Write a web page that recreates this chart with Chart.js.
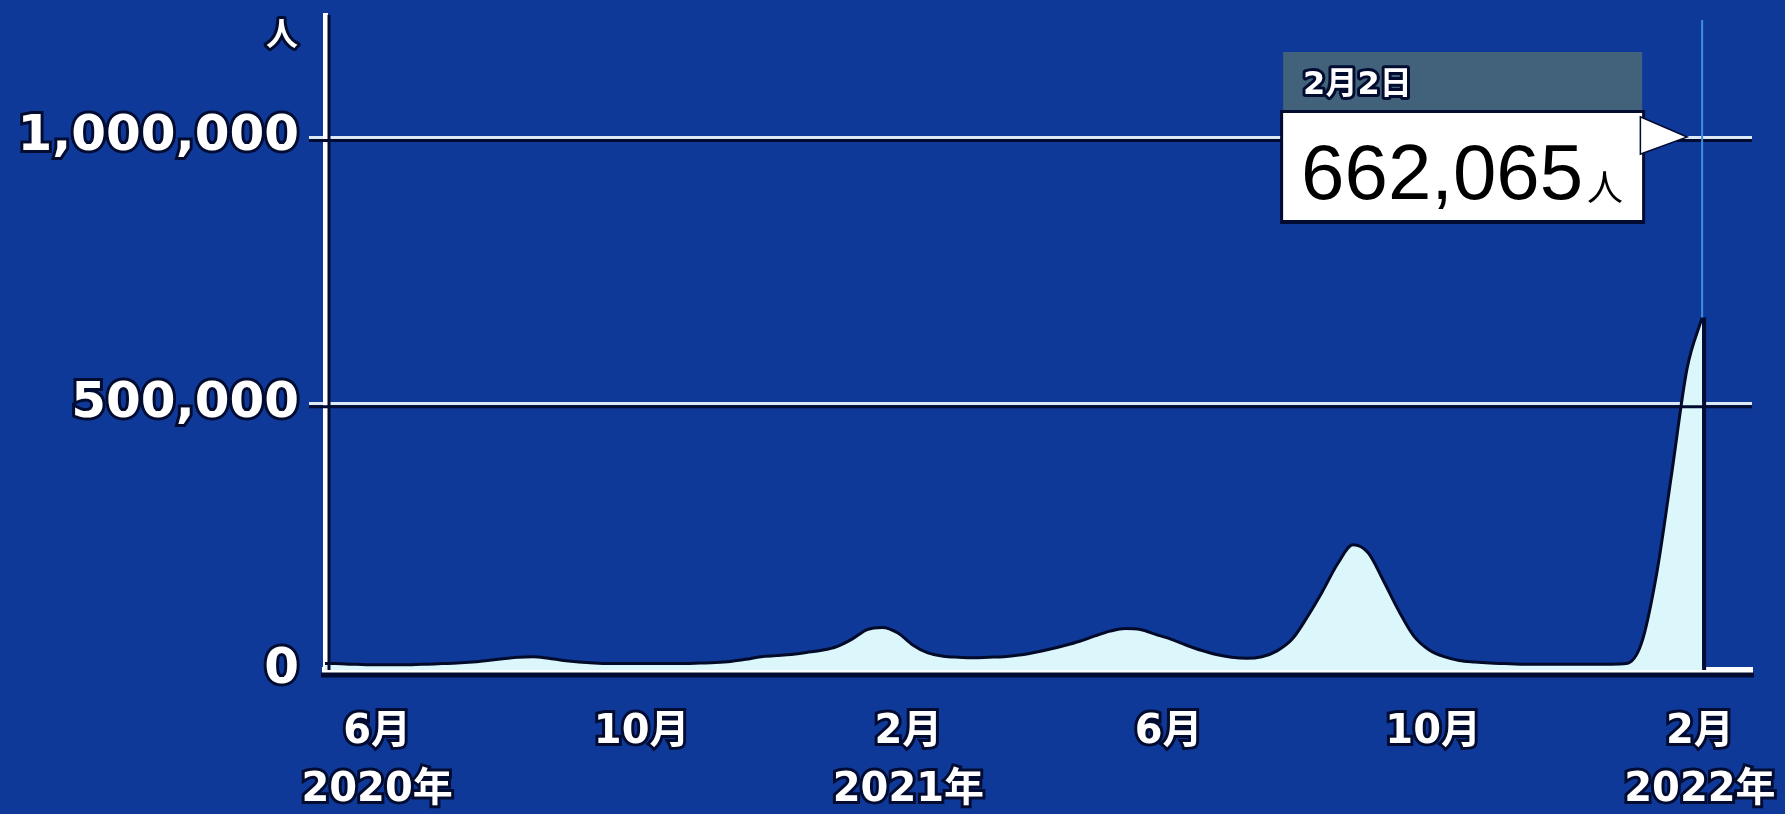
<!DOCTYPE html>
<html lang="ja">
<head>
<meta charset="utf-8">
<title>新規感染者数</title>
<script src="https://cdn.jsdelivr.net/npm/chart.js@4.4.1/dist/chart.umd.min.js"></script>
<style>
  html, body { margin: 0; padding: 0; background: #0f3999; overflow: hidden; }
  canvas { display: block; }
</style>
</head>
<body>
<canvas id="grafico" width="1785" height="814"></canvas>
<script>
// fechas (semanales) y valores, en personas
const fechas = [
  '2020-05-08', '2020-05-13', '2020-05-20', '2020-05-27', '2020-06-03', '2020-06-10', '2020-06-17', '2020-06-24',
  '2020-07-01', '2020-07-08', '2020-07-15', '2020-07-22', '2020-07-29', '2020-08-05', '2020-08-12', '2020-08-19',
  '2020-08-26', '2020-09-02', '2020-09-09', '2020-09-16', '2020-09-23', '2020-09-30', '2020-10-07', '2020-10-14',
  '2020-10-21', '2020-10-28', '2020-11-04', '2020-11-11', '2020-11-18', '2020-11-25', '2020-12-02', '2020-12-09',
  '2020-12-16', '2020-12-23', '2020-12-30', '2021-01-06', '2021-01-13', '2021-01-20', '2021-01-27', '2021-02-03',
  '2021-02-10', '2021-02-17', '2021-02-24', '2021-03-03', '2021-03-10', '2021-03-17', '2021-03-24', '2021-03-31',
  '2021-04-07', '2021-04-14', '2021-04-21', '2021-04-28', '2021-05-05', '2021-05-12', '2021-05-19', '2021-05-26',
  '2021-06-02', '2021-06-09', '2021-06-16', '2021-06-23', '2021-06-30', '2021-07-07', '2021-07-14', '2021-07-21',
  '2021-07-28', '2021-08-04', '2021-08-11', '2021-08-18', '2021-08-25', '2021-09-01', '2021-09-08', '2021-09-15',
  '2021-09-22', '2021-09-29', '2021-10-06', '2021-10-13', '2021-10-20', '2021-10-27', '2021-11-03', '2021-11-10',
  '2021-11-17', '2021-11-24', '2021-12-01', '2021-12-08', '2021-12-15', '2021-12-22', '2021-12-29', '2022-01-05',
  '2022-01-12', '2022-01-19', '2022-01-26', '2022-02-02'
]
const valores = [
  12000, 12000, 11000, 10000, 10000, 10000, 10000, 11000,
  12000, 13000, 15000, 18000, 21000, 24000, 25000, 22000,
  18000, 15000, 13000, 12000, 12000, 12000, 12000, 12000,
  12000, 13000, 14000, 16000, 20000, 25000, 27000, 29000,
  33000, 37000, 44000, 58000, 76000, 80000, 70000, 47000,
  32000, 26000, 24000, 23000, 24000, 25000, 28000, 33000,
  39000, 46000, 54000, 64000, 73000, 78000, 76000, 67000,
  58000, 47000, 37000, 29000, 24000, 22000, 25000, 36000,
  58000, 100000, 148000, 200000, 235000, 220000, 168000, 112000,
  64000, 38000, 25000, 18000, 15000, 13000, 12000, 11000,
  11000, 11000, 11000, 11000, 11000, 11000, 12000, 50000,
  180000, 370000, 565000, 662065
]

const rangoX = ['2020-05-08', '2022-02-25']
const tickFechas = ['2020-06-01', '2020-10-01', '2021-02-01', '2021-06-01', '2021-10-01', '2022-02-01']
const tickEtiquetas = [['6月', '2020年'], ['10月'], ['2月', '2021年'], ['6月'], ['10月'], ['2月', '2022年']]
const tickY = [0, 500000, 1000000]
const maxY = 1230000
const unidad = '人'

const SOMBRA = '#020b30'
const dia = s => Date.parse(s + 'T00:00:00Z') / 86400000

function textoContorno(ctx, txt, x, y, ancho) {
  ctx.lineJoin = 'round'
  ctx.lineWidth = ancho
  ctx.strokeStyle = SOMBRA
  ctx.strokeText(txt, x, y)
  ctx.fillStyle = '#ffffff'
  ctx.fillText(txt, x, y)
}

// sombras oscuras de ejes y lineas de cuadricula
const sombras = {
  id: 'sombras',
  afterDatasetsDraw(chart) {
    const { ctx, chartArea, scales } = chart
    ctx.save()
    ctx.strokeStyle = SOMBRA
    ctx.lineWidth = 3
    tickY.filter(v => v > 0).forEach(v => {
      const y = scales.y.getPixelForValue(v) + 3
      ctx.beginPath()
      ctx.moveTo(chartArea.left - 16, y)
      ctx.lineTo(chartArea.right, y)
      ctx.stroke()
    })
    ctx.beginPath()
    ctx.moveTo(chartArea.left + 4, chartArea.top)
    ctx.lineTo(chartArea.left + 4, chartArea.bottom)
    ctx.stroke()
    ctx.lineWidth = 5
    ctx.beginPath()
    ctx.moveTo(chartArea.left - 4, chartArea.bottom + 5)
    ctx.lineTo(chartArea.right + 2, chartArea.bottom + 5)
    ctx.stroke()

    // linea vertical del ultimo dato
    const n = valores.length - 1
    const px = scales.x.getPixelForValue(dia(fechas[n]))
    const py = scales.y.getPixelForValue(valores[n])
    ctx.lineWidth = 4
    ctx.beginPath()
    ctx.moveTo(px + 2, py)
    ctx.lineTo(px + 2, chartArea.bottom)
    ctx.stroke()
    ctx.strokeStyle = '#3f8fdc'
    ctx.lineWidth = 2
    ctx.beginPath()
    ctx.moveTo(px, chartArea.top + 5)
    ctx.lineTo(px, py)
    ctx.stroke()
    ctx.restore()
  }
}

// globo con el ultimo valor y unidad del eje
const globo = {
  id: 'globo',
  afterDraw(chart) {
    const { ctx, chartArea, scales } = chart
    const n = valores.length - 1
    const px = scales.x.getPixelForValue(dia(fechas[n]))
    const d = new Date(fechas[n] + 'T00:00:00Z')
    const right = px - 60
    const left = right - 359
    const top = chartArea.top + 37
    const mid = top + 61
    const bottom = mid + 107
    ctx.save()
    ctx.fillStyle = '#42617a'
    ctx.fillRect(left, top, right - left, mid - top)
    ctx.fillStyle = SOMBRA
    ctx.fillRect(left - 3, mid - 3, right - left + 6, bottom - mid + 7)
    ctx.fillStyle = '#ffffff'
    ctx.fillRect(left, mid, right - left, bottom - mid)
    // flecha
    ctx.beginPath()
    ctx.moveTo(right - 1, mid + 5)
    ctx.lineTo(px - 17, mid + 24)
    ctx.lineTo(right - 1, mid + 40)
    ctx.closePath()
    ctx.lineWidth = 3
    ctx.strokeStyle = SOMBRA
    ctx.stroke()
    ctx.fill()

    ctx.textBaseline = 'middle'
    ctx.textAlign = 'left'
    ctx.font = "bold 32px 'DejaVu Sans', 'Noto Sans CJK JP'"
    textoContorno(ctx, `${d.getUTCMonth() + 1}月${d.getUTCDate()}日`, left + 20, top + 34, 6)

    ctx.textBaseline = 'alphabetic'
    ctx.fillStyle = '#000000'
    ctx.font = "78px 'Liberation Sans'"
    const num = valores[n].toLocaleString('en-US')
    ctx.fillText(num, left + 18, bottom - 21)
    const w = ctx.measureText(num).width
    ctx.font = "36px 'Noto Sans CJK JP'"
    ctx.fillText(unidad, left + 22 + w, bottom - 19)

    // unidad del eje y
    ctx.textAlign = 'center'
    ctx.textBaseline = 'middle'
    ctx.font = "bold 32px 'Noto Sans CJK JP'"
    textoContorno(ctx, unidad, chartArea.left - 43, chartArea.top + 18, 6)
    ctx.restore()
  }
}

const fuenteTicks = "'DejaVu Sans', 'Noto Sans CJK JP'"

new Chart(document.getElementById('grafico'), {
  type: 'line',
  data: {
    datasets: [{
      data: fechas.map((f, i) => ({ x: dia(f), y: valores[i] })),
      borderColor: '#020a2a',
      borderWidth: 3,
      backgroundColor: '#dcf7fb',
      fill: 'origin',
      pointRadius: 0,
      cubicInterpolationMode: 'monotone'
    }]
  },
  options: {
    responsive: false,
    animation: false,
    devicePixelRatio: 1,
    layout: { padding: { top: 15, right: 33, left: 0, bottom: 0 } },
    plugins: {
      legend: { display: false },
      tooltip: { enabled: false }
    },
    scales: {
      x: {
        type: 'linear',
        z: 1,
        min: dia(rangoX[0]),
        max: dia(rangoX[1]),
        afterBuildTicks: s => { s.ticks = tickFechas.map(f => ({ value: dia(f) })) },
        afterFit: s => {
          s.height = 144
          s.paddingLeft = 0
          s.paddingRight = 0
        },
        grid: { display: false, drawTicks: false },
        border: { color: '#ffffff', width: 6 },
        ticks: {
          autoSkip: false,
          maxRotation: 0,
          minRotation: 0,
          padding: 34,
          color: '#ffffff',
          textStrokeColor: SOMBRA,
          textStrokeWidth: 6,
          font: { family: fuenteTicks, size: 40, weight: 'bold', lineHeight: 1.45 },
          callback: (v, i) => tickEtiquetas[i]
        }
      },
      y: {
        z: 1,
        min: 0,
        max: maxY,
        afterBuildTicks: s => { s.ticks = tickY.map(v => ({ value: v })) },
        afterFit: s => {
          s.width = 325
          s.paddingTop = 0
          s.paddingBottom = 0
        },
        grid: {
          color: c => (c.tick && c.tick.value === 0 ? 'rgba(0,0,0,0)' : '#dce8f5'),
          lineWidth: 3,
          drawTicks: true,
          tickLength: 16
        },
        border: { color: '#ffffff', width: 5 },
        ticks: {
          padding: 10,
          color: '#ffffff',
          textStrokeColor: SOMBRA,
          textStrokeWidth: 6,
          font: { family: fuenteTicks, size: 50, weight: 'bold' },
          callback: v => v.toLocaleString('en-US')
        }
      }
    }
  },
  plugins: [sombras, globo]
})
</script>
</body>
</html>
